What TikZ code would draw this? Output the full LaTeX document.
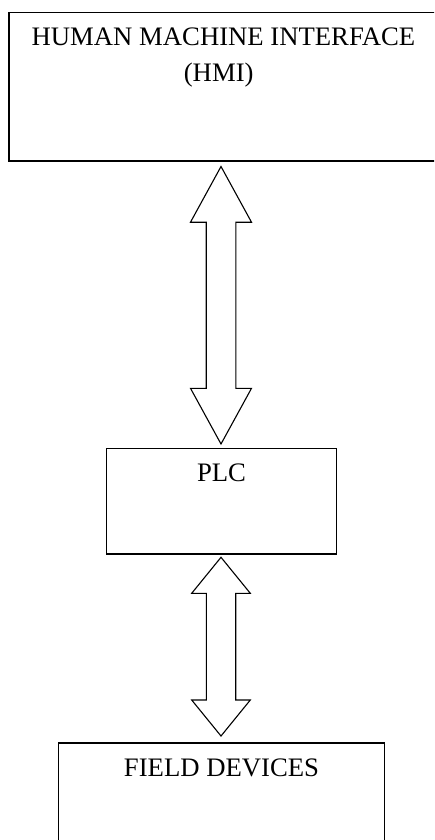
\documentclass[tikz,border=0pt]{standalone}
\usepackage{fontspec}
\setmainfont{Liberation Serif}
\usetikzlibrary{calc}
\tikzset{
  boxA/.style={draw=black, line width=1.5pt, fill=none, inner sep=0pt, anchor=north west},
  boxB/.style={draw=black, line width=1.3pt, fill=none, inner sep=0pt, anchor=north west},
  lbl/.style={anchor=base, inner sep=0pt, font=\fontsize{26.7}{32}\selectfont},
  arrowline/.style={draw=black, line width=1.1pt, line join=miter, fill=white}
}
\newcommand\mybiarrow[5]{%
  \draw[arrowline] let \p1=(#1), \p2=(#2) in
    (\x1,\y1) -- (\x1+#4pt,\y1-#3pt) -- (\x1+#5pt,\y1-#3pt)
    -- (\x1+#5pt,\y2+#3pt) -- (\x1+#4pt,\y2+#3pt) -- (\x2,\y2)
    -- (\x1-#4pt,\y2+#3pt) -- (\x1-#5pt,\y2+#3pt)
    -- (\x1-#5pt,\y1-#3pt) -- (\x1-#4pt,\y1-#3pt) -- cycle;}
\begin{document}
\begin{tikzpicture}[x=1pt,y=-1pt]
\useasboundingbox (0,0) rectangle (434,840);
\clip (0,0) rectangle (434,840);
% boxes
\node[boxA, minimum width=434pt, minimum height=148pt] (hmi) at (8,12) {};
\node[boxB, minimum width=230.3pt, minimum height=105.6pt] (plc) at (105.7,447.7) {};
\node[boxB, minimum width=326.3pt, minimum height=120pt] (fd) at (57.7,742.3) {};
% texts
\node[lbl] (hmiA) at (223.5,46) {HUMAN MACHINE INTERFACE};
\node[lbl] (hmiB) at (218.7,81.5) {(HMI)};
\node[lbl] (plcT) at ($(plc.north)+(0,34)$) {PLC};
\node[lbl] (fdT) at ($(fd.north)+(0,34.4)$) {FIELD DEVICES};
% connector tips
\coordinate (t1) at ($(plc.north |- hmi.south)+(-0.5,5)$);
\coordinate (b1) at ($(plc.north)+(-0.5,-3.7)$);
\coordinate (t2) at ($(plc.south)+(-0.5,2.7)$);
\coordinate (b2) at ($(fd.north)+(-0.5,-6.3)$);
% double arrows
\mybiarrow{t1}{b1}{55.7}{30.5}{14.8}
\mybiarrow{t2}{b2}{36}{29.3}{14.7}
\end{tikzpicture}
\end{document}
